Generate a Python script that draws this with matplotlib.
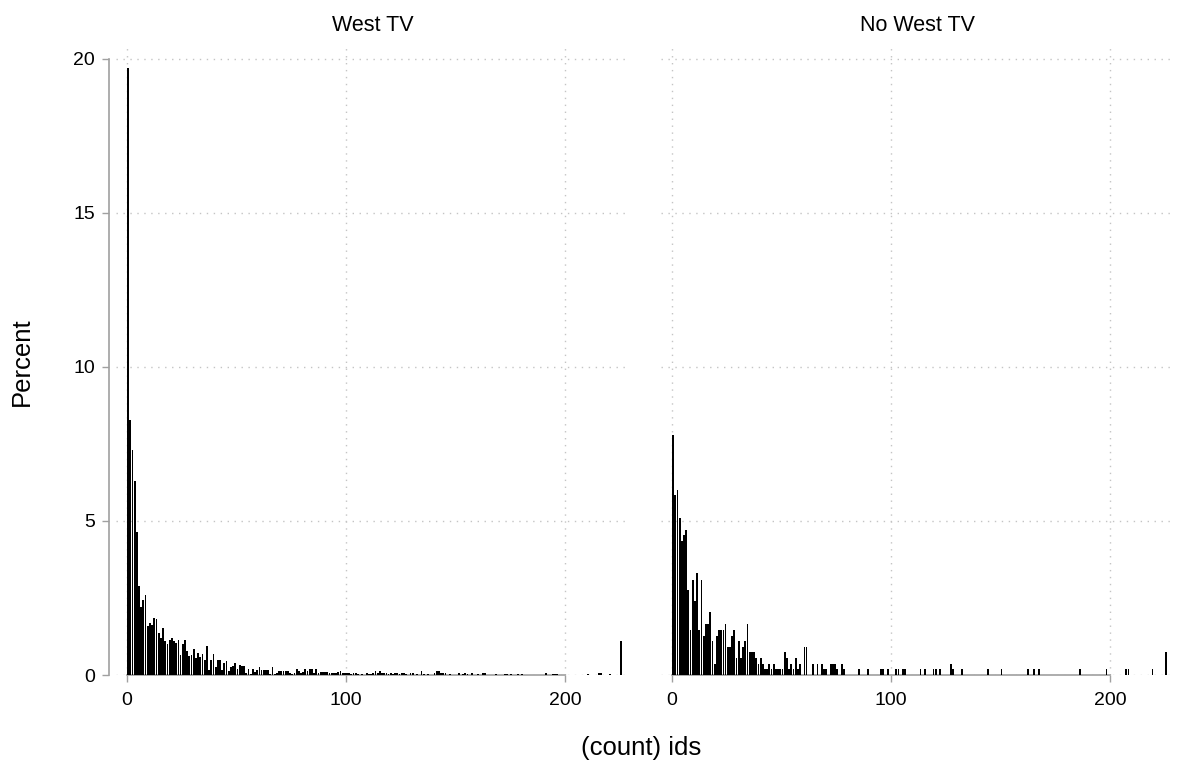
import numpy as np
import matplotlib
matplotlib.use("Agg")
import matplotlib.pyplot as plt

plt.rcParams['font.family'] = ['Liberation Sans', 'DejaVu Sans']

# percent of ids per count, West TV panel (counts 0..81)
west_pct = [19.7, 8.27, 7.3, 6.3, 4.65, 2.9, 2.2, 2.45, 2.6, 1.6,
            1.7, 1.62, 1.85, 1.82, 1.35, 1.2, 1.52, 1.1, 1.0, 1.15,
            1.2, 1.1, 1.05, 1.15, 0.65, 1.0, 1.15, 0.78, 0.62, 0.65,
            0.85, 0.55, 0.7, 0.57, 0.68, 0.49, 0.95, 0.15, 0.49, 0.68,
            0.25, 0.49, 0.49, 0.15, 0.39, 0.44, 0.12, 0.25, 0.29, 0.39,
            0.2, 0.34, 0.29, 0.29, 0.05, 0.2, 0.03, 0.2, 0.1, 0.16,
            0.25, 0.16, 0.16, 0.16, 0.16, 0.02, 0.25, 0.03, 0.05, 0.12,
            0.12, 0.12, 0.12, 0.12, 0.08, 0.03, 0.05, 0.2, 0.12, 0.05,
            0.1, 0.2]
# sparse tail, West TV
west_tail_x = [82, 83, 84, 85, 86, 87, 88, 89, 90, 91, 92, 93, 94, 95, 96,
               97, 98, 99, 100, 101, 102, 103, 104, 105, 107, 109, 110, 111,
               112, 113, 114, 115, 116, 117, 118, 119, 120, 121, 122, 123,
               124, 125, 126, 127, 129, 130, 132, 134, 135, 137, 140, 141,
               142, 143, 144, 145, 147, 151, 153, 154, 155, 157, 160, 162,
               163, 168, 172, 173, 175, 178, 180, 191, 194, 195, 196, 210,
               215, 216, 220, 225]
west_tail_pct = [0.12, 0.2, 0.2, 0.05, 0.2, 0.08, 0.1, 0.1, 0.1, 0.1, 0.08,
                 0.08, 0.05, 0.05, 0.1, 0.12, 0.08, 0.05, 0.08, 0.05, 0.03,
                 0.08, 0.05, 0.03, 0.03, 0.05, 0.03, 0.03, 0.05, 0.12, 0.08,
                 0.14, 0.08, 0.05, 0.05, 0.03, 0.05, 0.03, 0.05, 0.05, 0.03,
                 0.08, 0.05, 0.03, 0.08, 0.05, 0.03, 0.12, 0.03, 0.03, 0.08,
                 0.12, 0.12, 0.08, 0.08, 0.08, 0.03, 0.08, 0.03, 0.05, 0.03,
                 0.08, 0.03, 0.05, 0.08, 0.03, 0.03, 0.03, 0.03, 0.03, 0.03,
                 0.05, 0.03, 0.03, 0.03, 0.03, 0.05, 0.05, 0.03, 1.1]

# No West TV panel (counts 0..78)
nowest_pct = [7.8, 5.83, 6.0, 5.1, 4.35, 4.55, 4.7, 2.75, 1.47, 3.1,
              2.4, 3.3, 1.47, 3.1, 1.28, 1.66, 1.66, 2.03, 1.1, 0.37,
              1.28, 1.47, 1.47, 1.47, 1.66, 0.92, 0.92, 1.28, 1.47, 0.55,
              1.1, 0.55, 0.92, 1.1, 1.66, 0.74, 0.74, 0.74, 0.55, 0.37,
              0.55, 0.37, 0.18, 0.18, 0.37, 0.18, 0.37, 0.18, 0.18, 0.18,
              0.18, 0.74, 0.55, 0.18, 0.37, 0.18, 0.55, 0.18, 0.37, 0.0,
              0.92, 0.92, 0.0, 0.0, 0.37, 0.0, 0.37, 0.0, 0.37, 0.18,
              0.18, 0.0, 0.37, 0.37, 0.37, 0.18, 0.0, 0.37, 0.18]
nowest_tail_x = [85, 89, 95, 96, 98, 102, 103, 105, 106, 113, 115, 119, 120,
                 122, 127, 128, 132, 144, 150, 162, 165, 167, 186, 198, 207,
                 208, 219, 225]
nowest_tail_pct = [0.18, 0.18, 0.18, 0.18, 0.18, 0.18, 0.18, 0.18, 0.18,
                   0.18, 0.18, 0.18, 0.18, 0.18, 0.37, 0.18, 0.18, 0.18, 0.18,
                   0.18, 0.18, 0.18, 0.18, 0.18, 0.18, 0.18, 0.18, 0.74]

panels = [("West TV", west_pct, west_tail_x, west_tail_pct),
          ("No West TV", nowest_pct, nowest_tail_x, nowest_tail_pct)]

fig = plt.figure(figsize=(11.82, 7.64), dpi=100)
W, H = 1182, 764
boxes = [(116, 46, 513, 629), (661, 46, 513, 629)]

grid_kw = dict(color="#c4c4c4", linestyle=(0, (1, 4)), linewidth=1.0)

for i, (title, head, tx, tp) in enumerate(panels):
    x0, y0, w, h = boxes[i]
    ax = fig.add_axes([x0 / W, 1 - (y0 + h) / H, w / W, h / H])
    xs = np.concatenate([np.arange(len(head)), np.array(tx)])
    ys = np.concatenate([np.array(head), np.array(tp)])
    ax.bar(xs + 0.5, ys, width=0.82, color="black", linewidth=0, zorder=3)
    ax.set_xlim(-5, 229.3)
    ax.set_ylim(0, 20.42)
    ax.set_xticks([0, 100, 200])
    ax.set_yticks([0, 5, 10, 15, 20])
    ax.grid(True, **grid_kw)
    ax.set_axisbelow(True)
    for s in ["top", "right"]:
        ax.spines[s].set_visible(False)
    ax.spines["bottom"].set_bounds(0, 200)
    ax.spines["bottom"].set_color("#a0a0a0")
    ax.spines["bottom"].set_linewidth(1.2)
    ax.tick_params(axis="x", length=5, width=1, color="#a0a0a0",
                   labelsize=14, pad=7)
    if i == 0:
        ax.spines["left"].set_bounds(0, 20)
        ax.spines["left"].set_position(("outward", 5))
        ax.spines["left"].set_color("#a0a0a0")
        ax.spines["left"].set_linewidth(1.2)
        ax.tick_params(axis="y", length=5, width=1, color="#a0a0a0",
                       labelsize=14, pad=5)
    else:
        ax.spines["left"].set_visible(False)
        ax.tick_params(axis="y", length=0, labelleft=False)
    ax.set_title(title, fontsize=15.5, pad=11)

fig.text(22 / W, 1 - 362 / H, "Percent", rotation=90, fontsize=18.5,
         ha="center", va="center")
fig.text(641 / W, 1 - 748 / H, "(count) ids", fontsize=18.5,
         ha="center", va="center")

fig.savefig("out.png", dpi=100, facecolor="white")
